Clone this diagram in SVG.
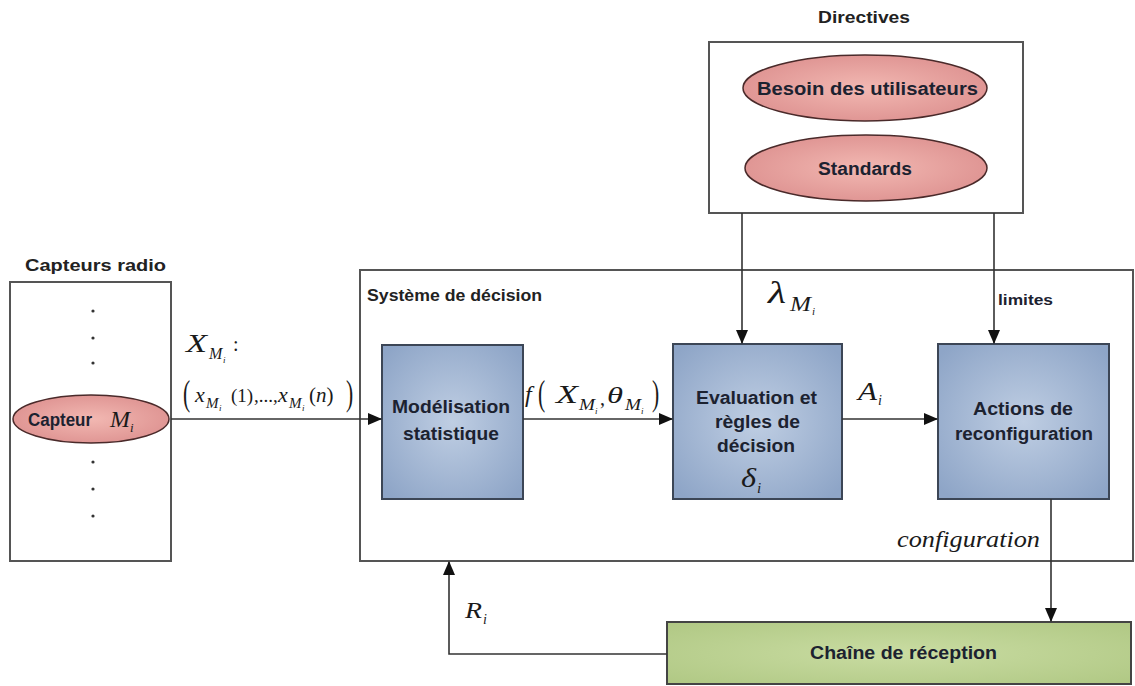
<svg xmlns="http://www.w3.org/2000/svg" width="1135" height="686" viewBox="0 0 1135 686">
<style>
.frame{fill:#fff;stroke:#555;stroke-width:2}
.blue{fill:url(#gBlue);stroke:#3c4656;stroke-width:2}
.pink{fill:url(#gPink);stroke:#4a2a2a;stroke-width:1.5}
.green{fill:url(#gGreen);stroke:#444;stroke-width:2}
.t{font-family:"Liberation Sans",Arial,sans-serif;font-weight:bold;fill:#1c2230}
.ttl{font-size:17px;fill:#222}
.bx{font-size:18px}
.m{font-family:"Liberation Serif","Times New Roman",serif;font-style:italic;fill:#1a1a1a}
.r{font-family:"Liberation Serif","Times New Roman",serif;fill:#1a1a1a}
.ln{fill:none;stroke:#333;stroke-width:1.6}
.dot{fill:#333}
</style>
<defs>
<radialGradient id="gBlue" cx="50%" cy="50%" r="65%">
<stop offset="0" stop-color="#bfcee3"/><stop offset="1" stop-color="#8ea5c7"/>
</radialGradient>
<radialGradient id="gPink" cx="50%" cy="50%" r="60%">
<stop offset="0" stop-color="#f2b8b2"/><stop offset="1" stop-color="#dc8f8e"/>
</radialGradient>
<radialGradient id="gGreen" cx="50%" cy="50%" r="70%">
<stop offset="0" stop-color="#c9dca2"/><stop offset="1" stop-color="#b0c884"/>
</radialGradient>
<marker id="ah" markerWidth="14" markerHeight="12" refX="13" refY="6" orient="auto" markerUnits="userSpaceOnUse">
<path d="M0,0 L14,6 L0,12 Z" fill="#111"/>
</marker>
</defs>

<g id="capteurs">
<text class="t ttl" x="25" y="271" textLength="141" lengthAdjust="spacingAndGlyphs">Capteurs radio</text>
<rect class="frame" x="10" y="282" width="161" height="279"/>
<circle class="dot" cx="93" cy="311" r="1.6"/>
<circle class="dot" cx="93" cy="338" r="1.6"/>
<circle class="dot" cx="93" cy="363" r="1.6"/>
<circle class="dot" cx="93" cy="462" r="1.6"/>
<circle class="dot" cx="93" cy="489" r="1.6"/>
<circle class="dot" cx="93" cy="516" r="1.6"/>
</g>
<g id="capteur-mi">
<ellipse class="pink" cx="91" cy="419" rx="78" ry="24"/>
<text class="t bx" x="28" y="426" textLength="64" lengthAdjust="spacingAndGlyphs">Capteur</text>
<text class="m" x="110" y="427" font-size="24">M</text>
<text class="m" x="130" y="432" font-size="13">i</text>
</g>

<g id="directives">
<text class="t ttl" x="818" y="23" textLength="92" lengthAdjust="spacingAndGlyphs">Directives</text>
<rect class="frame" x="709" y="42" width="314" height="171"/>
</g>
<g id="besoin">
<ellipse class="pink" cx="865" cy="88" rx="122" ry="33"/>
<text class="t bx" x="757" y="95" textLength="221" lengthAdjust="spacingAndGlyphs">Besoin des utilisateurs</text>
</g>
<g id="standards">
<ellipse class="pink" cx="866" cy="168" rx="121" ry="33"/>
<text class="t bx" x="818" y="175" textLength="94" lengthAdjust="spacingAndGlyphs">Standards</text>
</g>

<g id="systeme">
<rect class="frame" x="360" y="270" width="773" height="291"/>
<text class="t ttl" x="367" y="301" textLength="175" lengthAdjust="spacingAndGlyphs">Système de décision</text>
</g>
<g id="modelisation">
<rect class="blue" x="382" y="345" width="141" height="154"/>
<text class="t bx" x="392" y="413" textLength="118" lengthAdjust="spacingAndGlyphs">Modélisation</text>
<text class="t bx" x="403" y="440" textLength="96" lengthAdjust="spacingAndGlyphs">statistique</text>
</g>
<g id="evaluation">
<rect class="blue" x="673" y="344" width="169" height="155"/>
<text class="t bx" x="696" y="404" textLength="121" lengthAdjust="spacingAndGlyphs">Evaluation et</text>
<text class="t bx" x="715" y="428" textLength="85" lengthAdjust="spacingAndGlyphs">règles de</text>
<text class="t bx" x="717" y="452" textLength="78" lengthAdjust="spacingAndGlyphs">décision</text>
<text class="m" x="741" y="487" font-size="28" textLength="15" lengthAdjust="spacingAndGlyphs">δ</text>
<text class="m" x="757" y="493" font-size="15">i</text>
</g>
<g id="actions">
<rect class="blue" x="938" y="344" width="171" height="155"/>
<text class="t bx" x="973" y="415" textLength="100" lengthAdjust="spacingAndGlyphs">Actions de</text>
<text class="t bx" x="955" y="440" textLength="138" lengthAdjust="spacingAndGlyphs">reconfiguration</text>
</g>
<g id="chaine">
<rect class="green" x="667" y="622" width="464" height="62"/>
<text class="t bx" x="810" y="659" textLength="187" lengthAdjust="spacingAndGlyphs">Chaîne de réception</text>
</g>

<g id="connectors">
<line class="ln" x1="171" y1="419" x2="381" y2="419" marker-end="url(#ah)"/>
<line class="ln" x1="523" y1="419" x2="672" y2="419" marker-end="url(#ah)"/>
<line class="ln" x1="842" y1="419" x2="937" y2="419" marker-end="url(#ah)"/>
<line class="ln" x1="742" y1="213" x2="742" y2="343" marker-end="url(#ah)"/>
<line class="ln" x1="994" y1="213" x2="994" y2="343" marker-end="url(#ah)"/>
<line class="ln" x1="1051" y1="499" x2="1051" y2="621" marker-end="url(#ah)"/>
<polyline class="ln" points="667,654 449,654 449,562" marker-end="url(#ah)"/>
</g>

<g id="labels">
<text class="m" x="186" y="352" font-size="25" textLength="21" lengthAdjust="spacingAndGlyphs">X</text>
<text class="m" x="209" y="359" font-size="16">M</text>
<text class="m" x="223" y="363" font-size="9">i</text>
<text class="r" x="233" y="351" font-size="20">:</text>

<text class="r" x="183" y="405" font-size="36" transform="translate(183 0) scale(0.6 1) translate(-183 0)">(</text>
<text class="m" x="195" y="402" font-size="22">x</text>
<text class="m" x="206" y="408" font-size="15">M</text>
<text class="m" x="219" y="411" font-size="9">i</text>
<text class="r" x="231" y="402" font-size="19">(1)</text>
<text class="r" x="254" y="402" font-size="19">,...,</text>
<text class="m" x="278" y="402" font-size="22">x</text>
<text class="m" x="289" y="408" font-size="15">M</text>
<text class="m" x="302" y="411" font-size="9">i</text>
<text class="r" x="309" y="402" font-size="21">(<tspan class="m">n</tspan>)</text>
<text class="r" x="346" y="405" font-size="36" transform="translate(346 0) scale(0.6 1) translate(-346 0)">)</text>

<text class="m" x="525" y="402" font-size="24">f</text>
<text class="r" x="538" y="405" font-size="36" transform="translate(538 0) scale(0.6 1) translate(-538 0)">(</text>
<text class="m" x="556" y="403" font-size="25" textLength="22" lengthAdjust="spacingAndGlyphs">X</text>
<text class="m" x="579" y="410" font-size="17" textLength="16" lengthAdjust="spacingAndGlyphs">M</text>
<text class="m" x="595" y="414" font-size="9">i</text>
<text class="r" x="600" y="405" font-size="20">,</text>
<text class="m" x="607" y="403" font-size="24" textLength="16" lengthAdjust="spacingAndGlyphs">θ</text>
<text class="m" x="625" y="410" font-size="17" textLength="16" lengthAdjust="spacingAndGlyphs">M</text>
<text class="m" x="641" y="414" font-size="9">i</text>
<text class="r" x="652" y="405" font-size="36" transform="translate(652 0) scale(0.6 1) translate(-652 0)">)</text>

<text class="m" x="768" y="303" font-size="32" textLength="18" lengthAdjust="spacingAndGlyphs">λ</text>
<text class="m" x="790" y="311" font-size="21" textLength="21" lengthAdjust="spacingAndGlyphs">M</text>
<text class="m" x="812" y="315" font-size="11">i</text>

<text class="t" x="998" y="305" font-size="15" textLength="55" lengthAdjust="spacingAndGlyphs">limites</text>

<text class="m" x="858" y="400" font-size="26" textLength="19" lengthAdjust="spacingAndGlyphs">A</text>
<text class="m" x="878" y="405" font-size="14">i</text>

<text class="m" x="897" y="547" font-size="24" textLength="143" lengthAdjust="spacingAndGlyphs">configuration</text>

<text class="m" x="465" y="618" font-size="24" textLength="17" lengthAdjust="spacingAndGlyphs">R</text>
<text class="m" x="483" y="624" font-size="14">i</text>
</g>
</svg>
